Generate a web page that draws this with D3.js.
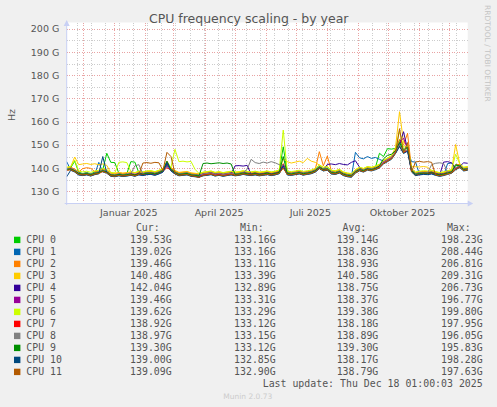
<!DOCTYPE html>
<html>
<head>
<meta charset="utf-8">
<script src="https://cdn.jsdelivr.net/npm/d3@7"></script>
<style>
    body { margin: 0; background: #f0f0f0; }
    svg { display: block; font-family: 'DejaVu Sans', sans-serif; }
    .mono { font-family: 'DejaVu Sans Mono', monospace; }
</style>
</head>
<body>
<div id="chart"></div>
<script>
// --- data (one sample every 4 days)
const startDate = new Date(2024, 10, 14, 12);
const stepDays = 4;

const cpuNames = ['CPU 0', 'CPU 1', 'CPU 2', 'CPU 3', 'CPU 4', 'CPU 5', 'CPU 6', 'CPU 7', 'CPU 8', 'CPU 9', 'CPU 10', 'CPU 11'];
const cpuColors = ['#00cc00', '#0066b3', '#ff8000', '#ffcc00', '#330099', '#990099', '#ccff00', '#ff0000', '#808080', '#008f00', '#00487d', '#b35a00'];

const cpu0 = [139.8,140.2,143.0,138.2,137.7,138.1,137.6,138.3,138.4,139.4,146.4,142.5,142.4,137.8,137.3,137.7,142.8,142.6,138.0,137.9,138.2,138.3,137.9,138.4,139.3,141.5,139.9,138.6,137.7,137.9,138.0,137.6,137.4,137.0,137.7,137.9,138.2,137.6,137.9,137.5,137.8,138.1,137.7,137.9,138.3,138.0,137.8,138.1,137.7,137.9,138.2,137.8,138.1,138.7,149.2,138.1,137.9,138.2,138.5,138.0,138.3,138.6,139.3,140.8,139.8,140.1,138.5,138.3,138.9,137.8,137.3,137.1,138.8,139.8,139.3,140.1,139.8,140.4,146.4,145.0,148.4,148.2,148.5,152.0,148.0,149.0,139.3,137.8,138.1,138.3,138.2,138.5,137.9,137.5,137.8,138.3,138.8,141.0,141.3,139.8,140.1];
const cpu1 = [142.8,139.2,138.6,137.1,136.9,137.2,136.7,137.3,142.5,138.3,137.9,136.6,136.4,136.8,136.5,136.7,137.0,136.6,137.2,136.9,137.3,137.4,137.0,137.6,138.4,141.0,138.9,137.6,136.8,137.0,137.2,136.6,136.4,136.2,136.8,137.0,137.3,136.7,137.0,136.6,136.9,137.2,136.8,137.0,137.4,137.1,136.9,137.2,136.8,137.0,137.3,136.9,137.2,137.7,141.0,137.2,137.0,137.3,137.6,137.1,137.4,137.7,138.4,139.9,138.9,139.2,137.6,137.4,138.0,136.9,136.4,136.2,146.8,144.5,144.0,145.0,144.2,144.6,143.8,143.0,143.6,144.2,146.5,149.5,146.5,147.5,142.8,142.6,137.2,137.4,137.3,137.6,137.0,136.6,136.9,142.0,142.2,139.4,140.4,138.9,139.2];
const cpu2 = [140.1,140.4,139.6,138.4,139.8,140.2,139.9,138.5,138.8,139.6,139.1,137.8,137.6,138.0,137.7,137.9,138.2,137.8,138.4,138.1,138.5,138.6,138.2,138.8,139.6,143.0,140.1,138.8,138.0,138.2,138.4,137.8,137.6,137.4,138.0,138.2,138.5,137.9,138.2,137.8,138.1,138.4,138.0,138.2,138.6,138.3,138.1,138.4,138.0,138.2,138.5,138.1,138.4,138.9,142.0,138.4,138.2,138.5,138.8,138.3,138.6,138.9,139.6,147.1,141.0,145.2,138.8,138.6,139.2,138.1,137.6,137.4,139.1,140.1,139.6,140.4,140.1,140.6,141.4,143.1,144.1,145.1,147.6,152.5,150.0,155.0,139.6,138.1,138.4,138.6,138.5,138.8,138.2,137.8,138.1,138.6,139.1,141.5,141.6,140.1,140.4];
const cpu3 = [140.3,140.6,144.8,141.5,141.8,142.0,141.6,141.9,141.5,141.8,141.2,138.0,137.8,138.2,137.9,138.1,138.4,138.0,138.6,138.3,138.7,138.8,138.4,139.0,139.8,142.0,140.3,139.0,138.2,138.4,138.6,138.0,137.8,137.6,138.2,138.4,138.7,138.1,138.4,138.0,138.3,138.6,138.2,138.4,138.8,138.5,138.3,138.6,138.2,138.4,138.7,138.3,138.6,139.1,144.0,142.8,142.2,142.6,143.0,142.4,144.2,143.0,142.5,141.3,140.3,140.6,139.0,138.8,139.4,138.3,137.8,137.6,139.3,140.3,139.8,140.6,140.3,140.8,141.6,143.3,144.3,145.3,149.0,164.3,151.0,150.0,140.6,140.6,140.5,140.7,140.4,139.0,138.4,138.0,138.3,138.8,139.3,150.2,142.0,140.3,140.6];
const cpu4 = [139.3,139.6,138.8,137.6,137.3,137.6,137.1,137.7,138.0,138.8,138.3,137.0,136.8,137.2,136.9,137.1,137.4,137.0,137.6,137.3,137.7,137.8,137.4,138.0,138.8,141.8,139.3,138.0,137.2,137.4,137.6,137.0,136.8,136.6,137.2,137.4,137.7,137.1,137.4,137.0,137.3,137.6,141.0,141.1,140.9,141.2,137.3,137.6,137.2,137.4,137.7,137.3,137.6,138.1,141.5,137.6,137.4,137.7,138.0,137.5,137.8,138.1,138.8,140.3,139.3,141.6,141.8,141.5,142.0,141.6,141.4,142.5,143.2,140.5,138.8,139.6,139.3,139.8,140.6,142.3,143.3,144.3,146.8,150.0,155.7,148.0,138.8,137.3,137.6,137.8,137.7,138.0,137.4,137.0,142.6,142.8,142.3,139.8,140.8,142.3,142.1];
const cpu5 = [139.5,139.9,139.1,137.9,137.6,137.9,137.4,138.0,138.3,139.1,138.6,137.3,137.1,137.5,137.2,137.4,137.7,137.3,137.9,137.6,138.0,138.1,137.7,138.3,139.1,141.0,139.6,138.3,137.5,137.7,137.9,137.3,137.1,136.9,137.5,137.7,138.0,137.4,137.7,137.3,137.6,137.9,137.5,137.7,138.1,137.8,137.6,137.9,137.5,137.7,138.0,137.6,137.9,138.4,141.5,137.9,137.7,138.0,138.3,137.8,138.1,138.4,139.1,140.6,139.6,139.9,138.3,138.1,138.7,137.6,137.1,136.9,138.6,139.6,139.1,139.9,139.6,140.1,140.9,142.6,143.6,144.6,147.1,151.0,153.0,148.1,139.1,137.6,137.9,138.1,138.0,138.3,137.7,137.3,137.6,138.1,138.6,140.1,141.1,139.6,139.9];
const cpu6 = [140.4,140.7,143.5,138.7,138.4,138.7,138.2,138.8,139.1,139.9,139.4,138.1,137.9,142.5,142.7,142.4,138.5,138.1,138.7,138.4,138.8,138.9,138.5,139.1,139.9,142.5,140.4,148.1,142.8,143.0,142.7,142.9,139.5,137.7,138.3,138.5,138.8,138.2,138.5,138.1,138.4,138.7,138.3,138.5,138.9,138.6,138.4,138.7,138.3,138.5,138.8,138.4,138.7,139.2,156.4,138.7,138.5,138.8,139.1,138.6,138.9,139.2,139.9,141.4,140.4,140.7,139.1,138.9,139.5,138.4,137.9,137.7,139.4,140.4,139.9,140.7,140.4,140.9,141.7,143.4,144.4,145.4,148.0,156.0,149.0,149.5,139.9,138.4,138.7,138.9,138.8,139.1,138.5,138.1,138.4,138.9,139.4,146.0,141.9,140.4,140.7];
const cpu7 = [139.2,139.5,138.7,137.5,137.2,137.5,137.0,137.6,137.9,138.7,138.2,136.9,136.7,137.1,136.8,137.0,137.3,136.9,137.5,137.2,137.6,137.7,137.3,137.9,138.7,140.2,139.2,137.9,137.1,137.3,137.5,136.9,136.7,136.0,137.1,137.3,137.6,137.0,137.3,136.9,137.2,137.5,137.1,137.3,137.7,137.4,137.2,137.5,137.1,137.3,137.6,137.2,137.5,138.0,140.2,137.5,137.3,137.6,137.9,137.4,137.7,138.0,138.7,140.2,139.2,139.5,137.9,137.7,138.3,137.2,136.7,136.5,138.2,139.2,138.7,139.5,139.2,139.7,140.5,142.2,143.2,144.2,146.7,149.7,146.7,147.7,138.7,136.8,137.5,137.7,137.6,137.9,137.3,136.9,137.2,137.7,138.2,139.7,140.7,139.2,139.5];
const cpu8 = [139.6,139.9,139.1,137.9,137.6,137.9,137.4,138.0,138.3,139.1,138.6,137.3,137.1,137.5,137.2,137.4,137.7,141.0,141.5,137.6,138.0,138.1,137.7,138.3,139.1,140.6,139.6,138.3,137.5,137.7,137.9,137.3,137.1,136.9,137.5,137.7,138.0,137.4,137.7,137.3,137.6,137.9,137.5,137.7,138.1,139.5,143.8,142.4,142.0,142.6,142.2,142.8,142.3,141.5,141.0,137.9,137.7,138.0,138.3,137.8,138.1,138.4,139.1,140.6,139.6,139.9,138.3,138.1,138.7,137.6,137.1,136.9,138.6,139.6,139.1,139.9,139.6,140.1,140.9,142.6,143.6,144.6,147.1,150.1,147.1,148.1,139.1,137.6,137.9,138.1,138.0,141.5,142.1,142.3,142.0,138.1,138.6,140.1,141.1,139.6,139.9];
const cpu9 = [139.4,139.7,138.9,137.7,137.4,137.7,137.2,137.8,138.1,138.9,138.4,137.1,136.9,137.3,137.0,137.2,137.5,137.1,137.7,137.4,137.8,137.9,137.5,138.1,138.9,143.0,139.4,138.1,137.3,137.5,137.7,137.1,136.9,136.7,142.0,142.2,141.9,142.1,142.3,142.0,142.2,141.8,137.3,137.5,137.9,137.6,137.4,137.7,137.3,137.5,137.8,137.4,137.7,138.2,145.0,137.7,137.5,137.8,138.1,137.6,137.9,138.2,138.9,140.4,139.4,139.7,138.1,137.9,138.5,137.4,136.9,136.7,138.4,139.4,138.9,139.7,139.4,139.9,141.0,144.0,145.5,146.0,147.5,151.0,147.5,149.0,138.9,137.4,137.7,137.9,137.8,138.1,137.5,137.1,137.4,137.9,138.4,141.5,140.9,139.4,139.7];
const cpu10 = [136.3,139.1,138.3,137.1,136.8,137.1,136.6,137.2,137.5,145.0,137.8,136.5,136.3,136.7,136.4,136.6,136.9,136.5,137.1,136.8,137.2,137.3,136.9,137.5,138.3,142.5,138.8,137.5,136.7,136.9,137.1,136.5,136.3,136.1,136.7,136.9,137.2,136.6,136.9,136.5,136.8,137.1,136.7,136.9,137.3,137.0,136.8,137.1,136.7,136.9,137.2,136.8,137.1,137.6,141.0,137.1,136.9,137.2,137.5,137.0,137.3,137.6,138.3,139.8,138.8,139.1,137.5,137.3,137.9,136.8,136.3,136.1,137.8,138.8,138.3,139.1,138.8,139.3,140.1,141.8,142.8,143.8,146.3,149.3,146.3,147.3,138.3,136.8,137.1,137.3,137.2,137.5,136.9,136.5,136.8,137.3,137.8,139.3,140.3,138.8,139.1];
const cpu11 = [139.0,139.3,138.5,137.3,137.0,137.3,136.8,137.4,137.7,138.5,138.0,136.7,136.5,136.9,136.6,136.8,137.1,136.7,137.3,142.2,142.4,142.1,142.5,142.3,139.0,146.8,145.0,137.7,136.9,137.1,137.3,136.7,136.5,136.0,136.9,137.1,137.4,136.8,137.1,136.7,137.0,137.3,136.9,137.1,137.5,137.2,137.0,137.3,136.9,137.1,137.4,137.0,137.3,137.8,140.0,137.3,137.1,137.4,137.7,137.2,137.5,137.8,138.5,140.0,139.0,139.3,137.7,137.5,138.1,137.0,136.5,136.3,138.0,139.0,138.5,139.3,139.0,139.5,140.3,142.0,143.0,144.0,146.5,157.0,146.5,151.0,138.5,142.7,142.9,142.6,142.8,142.5,137.1,136.7,137.0,137.5,138.0,139.5,140.5,139.0,139.3];

const cpuSeries = [cpu0, cpu1, cpu2, cpu3, cpu4, cpu5, cpu6, cpu7, cpu8, cpu9, cpu10, cpu11];

const curValues = [139.53, 139.02, 139.46, 140.48, 142.04, 139.46, 139.62, 138.92, 138.97, 139.30, 139.00, 139.09];
const minValues = [133.16, 133.16, 133.11, 133.39, 132.89, 133.31, 133.29, 133.12, 133.15, 133.12, 132.85, 132.90];
const avgValues = [139.14, 138.83, 138.93, 140.58, 138.75, 138.37, 139.38, 138.18, 138.89, 139.30, 138.17, 138.79];
const maxValues = [198.23, 208.44, 206.81, 209.31, 206.73, 196.77, 199.80, 197.95, 196.05, 195.83, 198.28, 197.63];

const yTickValues = [130, 140, 150, 160, 170, 180, 190, 200];
const xLabelDates = ['2025-01-15', '2025-04-15', '2025-07-15', '2025-10-15'];
const lastUpdate = 'Last update: Thu Dec 18 01:00:03 2025';

// --- layout
const W = 497, H = 407;
const plot = { left: 66.7, right: 467.7, top: 22.5, bottom: 203 };
const FONT_COLOR = '#555';
const AXIS_COLOR = '#c8d0f4';

const de = d3.timeFormatLocale({
    dateTime: '%A, der %e. %B %Y, %X', date: '%d.%m.%Y', time: '%H:%M:%S',
    periods: ['AM', 'PM'],
    days: ['Sonntag', 'Montag', 'Dienstag', 'Mittwoch', 'Donnerstag', 'Freitag', 'Samstag'],
    shortDays: ['So', 'Mo', 'Di', 'Mi', 'Do', 'Fr', 'Sa'],
    months: ['Januar', 'Februar', 'März', 'April', 'Mai', 'Juni', 'Juli', 'August', 'September', 'Oktober', 'November', 'Dezember'],
    shortMonths: ['Jan', 'Feb', 'Mrz', 'Apr', 'Mai', 'Jun', 'Jul', 'Aug', 'Sep', 'Okt', 'Nov', 'Dez']
});

const endDate = d3.timeDay.offset(startDate, 400);
const x = d3.scaleTime().domain([startDate, endDate]).range([plot.left, plot.right]);
const y = d3.scaleLinear().domain([125, 202.7]).range([plot.bottom, plot.top]);
const sampleDates = cpuSeries[0].map((_, i) => d3.timeDay.offset(startDate, i * stepDays));

const svg = d3.select('#chart').append('svg')
    .attr('width', W)
    .attr('height', H);

svg.append('rect').attr('width', W).attr('height', H).attr('fill', '#f0f0f0');
svg.append('rect')
    .attr('x', plot.left).attr('y', plot.top)
    .attr('width', plot.right - plot.left).attr('height', plot.bottom - plot.top)
    .attr('fill', '#fff');

// --- grid
const g_grid = svg.append('g').attr('shape-rendering', 'crispEdges').attr('stroke-dasharray', '1,1.5');
const minorY = d3.range(130, 201, 5).filter(v => v % 10 !== 0);
g_grid.selectAll('.ymin').data(minorY).join('line')
    .attr('x1', plot.left).attr('x2', plot.right)
    .attr('y1', d => Math.round(y(d)) + 0.5).attr('y2', d => Math.round(y(d)) + 0.5)
    .attr('stroke', '#cccccc');

const refMonday = new Date(2025, 0, 6);
const minorX = d3.timeMonday.range(startDate, endDate)
    .filter(d => Math.round((d - refMonday) / 864e5) % 14 === 0);
g_grid.selectAll('.xmin').data(minorX).join('line')
    .attr('x1', d => Math.round(x(d)) + 0.5).attr('x2', d => Math.round(x(d)) + 0.5)
    .attr('y1', plot.top).attr('y2', plot.bottom)
    .attr('stroke', '#cccccc');

g_grid.selectAll('.ymaj').data(yTickValues).join('line')
    .attr('x1', plot.left).attr('x2', plot.right)
    .attr('y1', d => Math.round(y(d)) + 0.5).attr('y2', d => Math.round(y(d)) + 0.5)
    .attr('stroke', '#e9a3a3');

const majorX = d3.timeMonth.range(startDate, endDate);
g_grid.selectAll('.xmaj').data(majorX).join('line')
    .attr('x1', d => Math.round(x(d)) + 0.5).attr('x2', d => Math.round(x(d)) + 0.5)
    .attr('y1', plot.top).attr('y2', plot.bottom)
    .attr('stroke', '#e9a3a3');

// --- lines (CPU 0 first, CPU 11 on top)
const line = d3.line()
    .x((_, i) => x(sampleDates[i]))
    .y(d => y(d));

const g_chart = svg.append('g').attr('class', 'g-chart');
cpuSeries.forEach((values, i) => {
    g_chart.append('path')
        .datum(values)
        .attr('fill', 'none')
        .attr('stroke', cpuColors[i])
        .attr('stroke-width', 1)
        .attr('stroke-linejoin', 'round')
        .attr('d', line);
});

// --- axes
const g_axis = svg.append('g').attr('class', 'g-axis');
g_axis.append('line')
    .attr('x1', plot.left).attr('x2', plot.left)
    .attr('y1', plot.bottom + 2).attr('y2', plot.top - 1)
    .attr('stroke', AXIS_COLOR);
g_axis.append('path')
    .attr('d', `M${plot.left - 3},${plot.top + 3.5}L${plot.left},${plot.top - 2.5}L${plot.left + 3},${plot.top + 3.5}Z`)
    .attr('fill', AXIS_COLOR);
g_axis.append('line')
    .attr('x1', plot.left - 2).attr('x2', plot.right + 1)
    .attr('y1', plot.bottom + 0.5).attr('y2', plot.bottom + 0.5)
    .attr('stroke', AXIS_COLOR);
g_axis.append('path')
    .attr('d', `M${plot.right},${plot.bottom - 2.5}L${plot.right + 5.5},${plot.bottom + 0.5}L${plot.right},${plot.bottom + 3.5}Z`)
    .attr('fill', AXIS_COLOR);

const yAxis = d3.axisLeft(y).tickValues(yTickValues).tickSize(0).tickPadding(7.4)
    .tickFormat(d => d + ' G');
const yAxisView = g_axis.append('g')
    .attr('transform', `translate(${plot.left},0)`)
    .call(yAxis);
yAxisView.select('.domain').remove();
yAxisView.selectAll('text')
    .attr('fill', FONT_COLOR)
    .style('font-family', "'DejaVu Sans', sans-serif")
    .style('font-size', '9.5px');

const parseDay = d3.timeParse('%Y-%m-%d');
const xAxis = d3.axisBottom(x).tickValues(xLabelDates.map(parseDay)).tickSize(0).tickPadding(6.3)
    .tickFormat(de.format('%B %Y'));
const xAxisView = g_axis.append('g')
    .attr('transform', `translate(0,${plot.bottom})`)
    .call(xAxis);
xAxisView.select('.domain').remove();
xAxisView.selectAll('text')
    .attr('fill', FONT_COLOR)
    .style('font-family', "'DejaVu Sans', sans-serif")
    .style('font-size', '9.5px');

// --- titles
svg.append('text')
    .attr('x', 248.7).attr('y', 23)
    .attr('text-anchor', 'middle')
    .attr('fill', FONT_COLOR)
    .style('font-size', '12.5px')
    .text('CPU frequency scaling - by year');

svg.append('text')
    .attr('transform', 'translate(14.5,115) rotate(-90)')
    .attr('text-anchor', 'middle')
    .attr('fill', FONT_COLOR)
    .style('font-size', '9.5px')
    .text('Hz');

svg.append('text')
    .attr('transform', 'translate(484.5,5) rotate(90)')
    .attr('text-anchor', 'start')
    .attr('fill', '#c4c4c4')
    .style('font-size', '7.5px')
    .text('RRDTOOL / TOBI OETIKER');

// --- legend
const colRight = [171.7, 275.7, 378.3, 482.7];
const colHeads = ['Cur:', 'Min:', 'Avg:', 'Max:'];
const colValues = [curValues, minValues, avgValues, maxValues];
const fmt = d3.format('.2f');
const rowY = i => 243.3 + i * 12;

const g_legend = svg.append('g').attr('class', 'mono').attr('fill', FONT_COLOR).style('font-size', '9.9px');
g_legend.selectAll('.head').data(colHeads).join('text')
    .attr('x', (_, i) => colRight[i] - 12)
    .attr('y', 231)
    .attr('text-anchor', 'end')
    .text(d => d);

cpuNames.forEach((name, i) => {
    g_legend.append('rect')
        .attr('x', 14).attr('y', rowY(i) - 6.6)
        .attr('width', 6.4).attr('height', 6.4)
        .attr('fill', cpuColors[i]);
    g_legend.append('text')
        .attr('x', 26.3).attr('y', rowY(i))
        .text(name);
    colValues.forEach((vals, c) => {
        g_legend.append('text')
            .attr('x', colRight[c]).attr('y', rowY(i))
            .attr('text-anchor', 'end')
            .text(fmt(vals[i]) + 'G');
    });
});

g_legend.append('text')
    .attr('x', 482.7).attr('y', rowY(12))
    .attr('text-anchor', 'end')
    .text(lastUpdate);

svg.append('text')
    .attr('x', 247.8).attr('y', 398.7)
    .attr('text-anchor', 'middle')
    .attr('fill', '#cccccc')
    .style('font-size', '7.5px')
    .text('Munin 2.0.73');
</script>
</body>
</html>
